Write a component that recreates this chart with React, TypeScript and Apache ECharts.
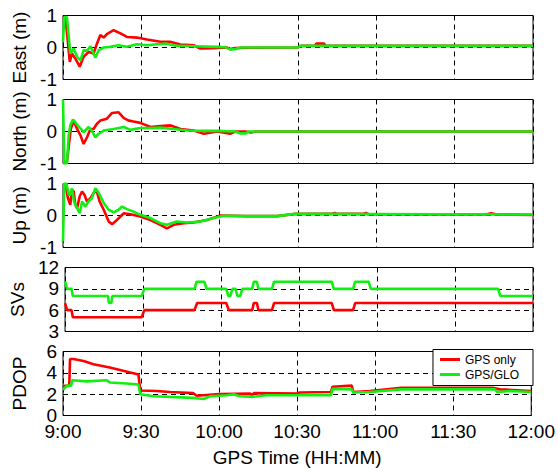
import React, { useEffect, useRef } from "react";
import * as echarts from "echarts";

type P = [number, number];

// time in minutes after 9:00
const timeLabels = ["9:00", "9:30", "10:00", "10:30", "11:00", "11:30", "12:00"];
const seriesNames = ["GPS only", "GPS/GLO"];
const panelNames = ["East (m)", "North (m)", "Up (m)", "SVs", "PDOP"];

const eastGps: P[] = [[0,0.95],[1,0.9],[2.6,-0.45],[3.4,-0.19],[4.7,-0.34],[6.4,-0.6],[7.9,-0.29],[9.8,-0.14],[11.7,-0.19],[13,0.12],[14.3,0.39],[15.6,0.31],[16.8,0.42],[19.4,0.54],[22,0.44],[24.5,0.33],[28.3,0.31],[32.2,0.25],[37.3,0.18],[41,0.18],[45,0.09],[50,0.07],[52.6,-0.03],[57.7,-0.02],[62.7,0],[64,-0.05],[66,-0.02],[70,-0.01],[90,0],[91,0.05],[96.5,0.06],[97,0.12],[100,0.12],[100.5,0.05],[180,0.05]];
const eastGlo: P[] = [[0,0.18],[0.5,0.95],[1.5,0.95],[2.8,-0.19],[4.1,-0.03],[5.4,-0.29],[6.7,-0.4],[7.9,-0.08],[9.2,-0.1],[10.5,0.04],[12.4,-0.32],[13.7,-0.08],[15.6,0],[18.1,0.02],[21.3,0.07],[24.5,0.02],[28.3,0.1],[32.2,0.07],[36,0.1],[39.8,0.12],[43.6,0.05],[50,0.04],[59,0.02],[62,0.01],[64,-0.06],[66,-0.05],[68,0],[90,0],[91,0.05],[180,0.05]];

const northGps: P[] = [[0,-1],[1.5,-0.95],[2.2,-0.45],[3,0.08],[4.1,0.34],[5.4,0.08],[6.7,-0.12],[7.9,-0.39],[9.2,-0.18],[10.5,0.08],[11.7,0.08],[13,0.24],[14.3,0.34],[16.8,0.4],[18.8,0.58],[21.3,0.6],[23.3,0.42],[25.2,0.34],[27,0.31],[29.6,0.27],[33.5,0.14],[37.3,0.17],[41.2,0.19],[45,0.08],[50,0.03],[54,-0.07],[59,0],[64,-0.07],[66,0],[70,0],[72,-0.03],[74,0],[180,0]];
const northGlo: P[] = [[0,1],[0.5,-1],[1.5,-1],[2.2,-0.12],[2.8,0.19],[3.8,0.37],[4.7,0.29],[5.6,0.19],[6.7,0.1],[7.9,-0.02],[9.8,0.14],[11,0.03],[12.4,-0.18],[13.7,-0.07],[15.6,0.03],[19.4,0.08],[23.3,0.14],[25.8,0.05],[29.6,0.11],[33.5,0.11],[37.3,0.12],[42.4,0.08],[47.5,0.03],[54,0.02],[59,0.02],[66,0],[68,-0.06],[70,-0.06],[71,0],[180,0]];

const upGps: P[] = [[0,0.96],[1,0.96],[1.9,0.54],[2.8,0.33],[3.4,0.8],[4.1,0.75],[4.7,0.33],[5.4,0.23],[6.4,0.6],[7.3,0.75],[8.2,0.65],[9.2,0.44],[10.5,0.54],[11.7,0.7],[12.8,0.8],[14,0.44],[15.6,0.18],[17.5,-0.19],[18.8,-0.27],[20,-0.19],[22,-0.03],[23.3,0.07],[25.8,0.04],[29.6,-0.03],[33.5,-0.14],[37.3,-0.29],[39.8,-0.4],[42.4,-0.29],[46.3,-0.24],[50,-0.22],[55.2,-0.14],[60.3,0],[70,-0.02],[82,-0.02],[89,0.05],[103,0.05],[104,0.08],[105,0.05],[115,0.05],[116,0.08],[117,0.04],[140,0.03],[162,0.03],[164,0.07],[166,0.03],[180,0.02]];
const upGlo: P[] = [[0,-0.81],[0.5,1],[1.3,1],[2.2,0.65],[2.8,0.65],[3.4,0.85],[4.2,0.44],[5.4,0.23],[6.4,0.07],[7.3,0.44],[8.5,0.28],[9.8,0.44],[11,0.54],[12.4,0.85],[13.7,0.7],[15.6,0.39],[17.5,0.18],[19.4,0.1],[21.3,0.18],[22.6,0.28],[24.5,0.2],[27,0.12],[29.6,0.02],[33.5,-0.08],[37.3,-0.24],[39.8,-0.29],[43.6,-0.19],[47.5,-0.22],[52.6,-0.19],[57.7,-0.08],[61.6,-0.01],[70,-0.02],[82,-0.02],[89,0.05],[180,0.03]];

const svsGps: P[] = [[0,7],[0.8,6],[2.5,6],[3,5],[29.5,5],[30.5,6],[49.8,6],[50.8,7],[62,7],[63,6],[72,6],[72.6,7],[73.8,7],[74.4,6],[79.6,6],[80.4,7],[102.6,7],[103.4,6],[110.8,6],[111.6,7],[180,7]];
const svsGlo: P[] = [[0,10],[0.8,9],[2.5,9],[3,8],[16.5,8],[16.9,7],[17.8,7],[18.2,8],[29.5,8],[30.5,9],[49.8,9],[50.6,10],[53.6,10],[54.4,9],[62,9],[62.8,8],[63.6,8],[64.4,9],[65.6,9],[66.3,8],[67.4,8],[68.2,9],[72,9],[72.6,10],[73.8,10],[74.4,9],[79.6,9],[80.4,10],[102.6,10],[103.4,9],[110.8,9],[111.6,10],[116.8,10],[117.6,9],[166.6,9],[167.4,8],[180,8]];

const pdopGps: P[] = [[0,2.75],[2.4,2.8],[2.7,5.3],[4,5.3],[7.9,5.1],[11.7,4.8],[18,4.5],[29,3.85],[29.7,2.35],[36,2.3],[41,2.2],[50,2.1],[51.4,1.85],[54,1.9],[60,2.0],[72,2.05],[72.6,1.9],[73.4,2.1],[90,2.05],[91,2.15],[103,2.2],[103.6,2.7],[111,2.8],[111.6,2.2],[118,2.3],[130,2.6],[165,2.6],[168,2.45],[180,2.3]];
const pdopGlo: P[] = [[0,2.4],[1.5,2.8],[3.2,2.8],[3.5,3.3],[9.2,3.2],[16.8,3.3],[18,3.1],[24.5,3.0],[29,2.9],[29.7,2.0],[34.8,1.8],[50,1.65],[54,1.55],[56.6,1.8],[63,1.9],[65.6,2.0],[68,1.8],[73,1.75],[78,1.9],[90,1.9],[103,1.9],[103.6,2.5],[111,2.45],[111.6,2.15],[118,2.2],[130,2.45],[166,2.45],[167,2.2],[172,2.3],[180,2.2]];

const yRanges = [
  { min: -1, max: 1, interval: 1 },
  { min: -1, max: 1, interval: 1 },
  { min: -1, max: 1, interval: 1 },
  { min: 3, max: 12, interval: 3 },
  { min: 0, max: 6, interval: 2 },
];
const panelData: [P[], P[]][] = [
  [eastGps, eastGlo],
  [northGps, northGlo],
  [upGps, upGlo],
  [svsGps, svsGlo],
  [pdopGps, pdopGlo],
];

const FONT = "'Liberation Sans', Arial, sans-serif";
const tops = [15.5, 99.5, 183.5, 267.5, 351.5];
const H = 64;
const COLORS = ["#ff0000", "#11ee11"];

export default function App() {
  const ref = useRef<HTMLDivElement>(null);
  useEffect(() => {
    if (!ref.current) return;
    const chart = echarts.init(ref.current, undefined, { renderer: "svg" });
    const dashed = { show: true, lineStyle: { color: "#000", type: [5, 4] as any, width: 1 } };
    const grids = tops.map((t) => ({
      left: 63, right: 25, top: t, height: H, show: true, borderColor: "#000", borderWidth: 1, backgroundColor: "transparent",
    }));
    const xAxes = tops.map((_, i) => ({
      type: "value", gridIndex: i, min: 0, max: 180, interval: 30,
      axisLine: { show: false }, axisTick: { show: false },
      splitLine: dashed,
      axisLabel: {
        show: i === 4, fontSize: 19, lineHeight: 16, color: "#000", fontFamily: FONT, margin: 8,
        formatter: (v: number) => timeLabels[Math.round(v / 30)] ?? "",
      },
      name: i === 4 ? "GPS Time (HH:MM)" : "",
      nameLocation: "middle", nameGap: 32,
      nameTextStyle: { fontSize: 19, color: "#000", fontFamily: FONT },
    }));
    const yAxes = yRanges.map((r, i) => ({
      type: "value", gridIndex: i, min: r.min, max: r.max, interval: r.interval,
      axisLine: { show: false }, axisTick: { show: false },
      splitLine: dashed,
      axisLabel: { fontSize: 19, lineHeight: 14, color: "#000", fontFamily: FONT, margin: 6 },
      name: panelNames[i], nameLocation: "middle", nameGap: 34,
      nameTextStyle: { fontSize: 19, color: "#000", fontFamily: FONT },
    }));
    const series: any[] = [];
    panelData.forEach((pair, i) => {
      pair.forEach((d, k) => {
        series.push({
          type: "line", name: seriesNames[k], xAxisIndex: i, yAxisIndex: i, data: d,
          symbol: "none", lineStyle: { color: COLORS[k], width: 2.6 }, itemStyle: { color: COLORS[k] },
          z: 2 + k,
        });
      });
    });
    chart.setOption({
      animation: false,
      backgroundColor: "#fff",
      grid: grids,
      xAxis: xAxes,
      yAxis: yAxes,
      legend: {
        data: seriesNames, orient: "vertical", right: 25, top: 349.5,
        backgroundColor: "#fff", borderColor: "#000", borderWidth: 1,
        padding: [4, 14, 5, 7], itemGap: 3, itemWidth: 20, itemHeight: 3,
        icon: "rect",
        textStyle: { fontSize: 12, color: "#000", fontFamily: FONT, lineHeight: 12 },
        selectedMode: false,
      },
      series,
    });
    return () => chart.dispose();
  }, []);
  return <div ref={ref} style={{ position: "absolute", left: 0, top: 0, width: 558, height: 471 }} />;
}
